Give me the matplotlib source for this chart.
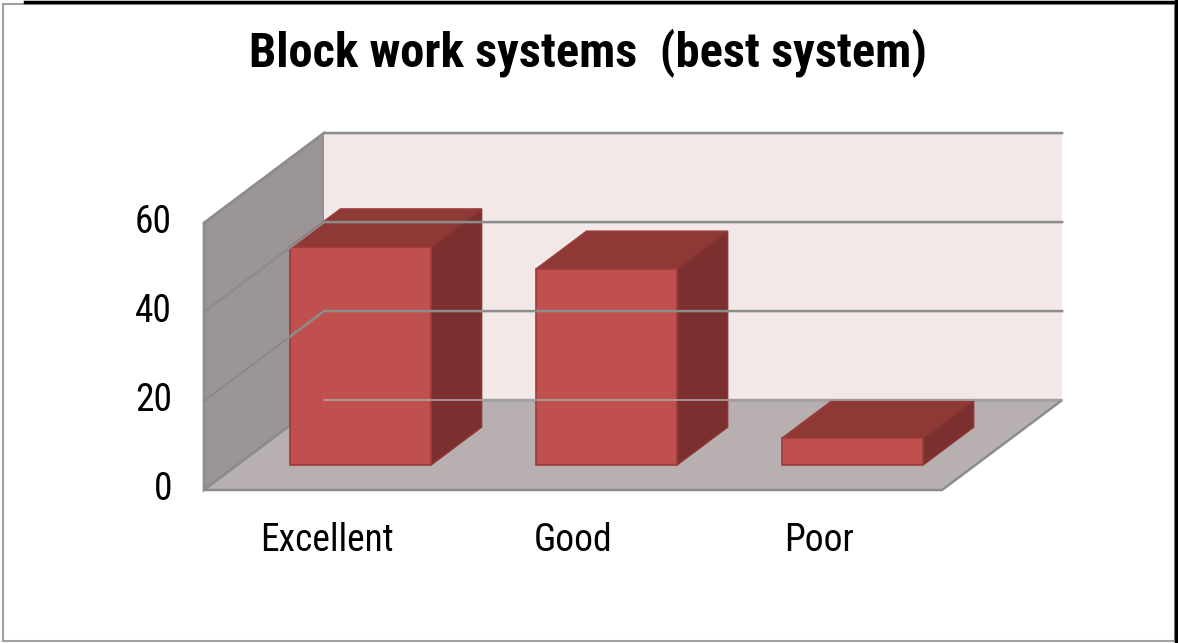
import matplotlib
matplotlib.use("Agg")
import matplotlib.pyplot as plt
from matplotlib.patches import Polygon, Rectangle
from matplotlib.lines import Line2D

categories = ["Excellent", "Good", "Poor"]
values = [49, 44, 6]
y_ticks = [0, 20, 40, 60]
title = "Block work systems  (best system)"

FONT = ["Liberation Sans Narrow", "Roboto Condensed", "Roboto", "DejaVu Sans"]

# oblique depth offset (category units, value units) for the full floor depth
DX, DY = 0.488, 20.2
BAR_W = 0.573
D0, D1 = 0.28, 0.70
YMAX = 60


def proj(c, v, d):
    return (c + d * DX, v + d * DY)


fig = plt.figure(figsize=(11.78, 6.43), dpi=100)
ax = fig.add_axes([0, 0, 1, 1])
ax.set_xlim(-1.329, 3.459)
ax.set_ylim(-34.38, 110.1)
ax.axis("off")

x0, x1 = -0.5, len(categories) - 0.5
edge = "#8c8c8c"

# side wall, back wall and floor
side = [proj(x0, 0, 0), proj(x0, 0, 1), proj(x0, YMAX, 1), proj(x0, YMAX, 0)]
back = [proj(x0, 0, 1), proj(x1, 0, 1), proj(x1, YMAX, 1), proj(x0, YMAX, 1)]
floor = [proj(x0, 0, 0), proj(x1, 0, 0), proj(x1, 0, 1), proj(x0, 0, 1)]
ax.add_patch(Polygon(side, closed=True, facecolor="#9b9695", edgecolor=edge, lw=1.8))
ax.add_patch(Polygon(back, closed=True, facecolor="#f3e8e8", edgecolor="none"))
ax.add_patch(Polygon(floor, closed=True, facecolor="#b8b0b0", edgecolor=edge, lw=1.8))

# gridlines across side wall and back wall
for t in y_ticks[1:]:
    pts = [proj(x0, t, 0), proj(x0, t, 1), proj(x1, t, 1)]
    ax.add_line(Line2D([p[0] for p in pts], [p[1] for p in pts], color=edge, lw=1.8))
ax.add_line(Line2D(*zip(proj(x0, 0, 1), proj(x1, 0, 1)), color="#a9a3a3", lw=1.2))

# 3d bars
for i, v in enumerate(values):
    l, r = i - BAR_W / 2, i + BAR_W / 2
    top = [proj(l, v, D0), proj(r, v, D0), proj(r, v, D1), proj(l, v, D1)]
    rside = [proj(r, 0, D0), proj(r, 0, D1), proj(r, v, D1), proj(r, v, D0)]
    front = [proj(l, 0, D0), proj(r, 0, D0), proj(r, v, D0), proj(l, v, D0)]
    ax.add_patch(Polygon(top, closed=True, facecolor="#8f3937", edgecolor="#9a3e3c", lw=1.2))
    ax.add_patch(Polygon(rside, closed=True, facecolor="#7b302f", edgecolor="#8a3634", lw=1.2))
    ax.add_patch(Polygon(front, closed=True, facecolor="#c0504d", edgecolor="#9b3b39", lw=1.2))

# axis labels
for t in y_ticks:
    ax.text(x0 - 0.13, t, str(t), ha="right", va="center", fontsize=27,
            family=FONT, fontstretch="condensed", color="black")
for i, name in enumerate(categories):
    ax.text(i, -11.3, name, ha="center", va="center", fontsize=27,
            family=FONT, fontstretch="condensed", color="black")

fig.text(0.499, 0.918, title, ha="center", va="center", fontsize=35,
         fontweight="bold", fontstretch="condensed", family=FONT)

# chart frame
fig.add_artist(Rectangle((3 / 1178, 2 / 643), 1172 / 1178, 637 / 643,
                         transform=fig.transFigure, fill=False,
                         edgecolor="#a0a0a0", lw=1.5))
fig.add_artist(Line2D([25 / 1178, 1], [1 - 1.5 / 643] * 2,
                      transform=fig.transFigure, color="black", lw=2.5))
fig.add_artist(Line2D([1 - 2 / 1178] * 2, [0, 1],
                      transform=fig.transFigure, color="black", lw=2.5))

fig.savefig("out.png", dpi=100)
